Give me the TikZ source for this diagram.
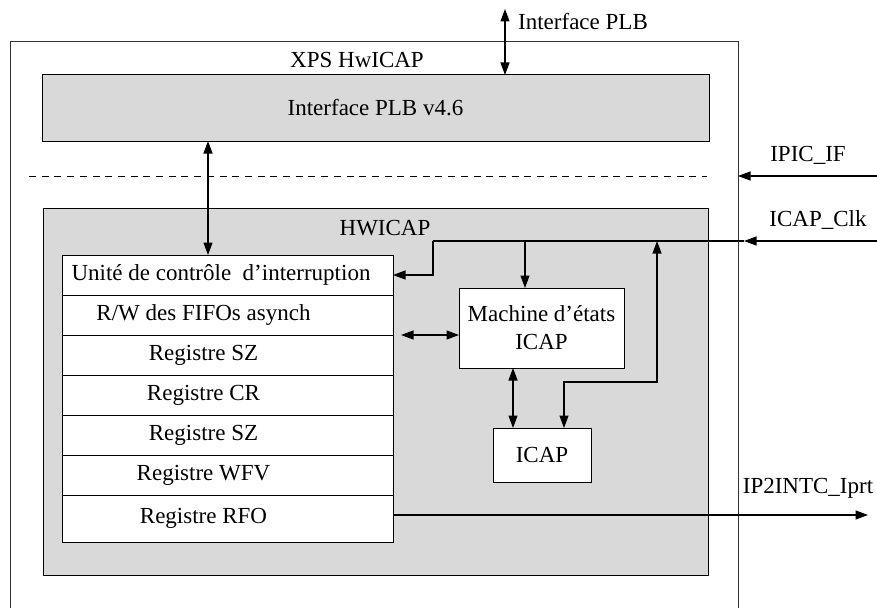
\documentclass[tikz,border=0pt]{standalone}
\usepackage{fontspec}
\setmainfont{Liberation Serif}
\usetikzlibrary{arrows.meta,positioning,calc}

\begin{document}
\begin{tikzpicture}[
    x=1pt, y=-1pt,
    font=\fontsize{23}{28}\selectfont,
    every node/.style={inner sep=0pt, outer sep=0pt},
    block/.style={rectangle, draw, line width=1pt, align=center},
    graybox/.style={block, fill=black!15},
    whitebox/.style={block, fill=white},
    row/.style={whitebox, minimum width=331pt, minimum height=40pt},
    rowtext/.style={label={[xshift=-24pt]center:#1}},
    arrow/.style={-{Triangle[length=12.5pt,width=9pt]}, line width=1.1pt},
    doublearrow/.style={{Triangle[length=12.5pt,width=9pt]}-{Triangle[length=12.5pt,width=9pt]}, line width=1.1pt}
  ]
    \useasboundingbox (0,0) rectangle (877,607);

    % outer block, open at the bottom of the page
    \node[rectangle, draw=black!80, line width=0.8pt, minimum width=728pt, minimum height=620pt, anchor=north west] (xps) at (10,41) {};
    \node (xpslabel) at (357,60) {XPS HwICAP};
    \node[graybox, minimum width=667pt, minimum height=66pt] (plb) at (375.5,108) {Interface PLB v4.6};

    \coordinate (plbext) at (505,9);
    \node (plblabel) at (583,22) {Interface PLB};
    \draw[doublearrow] (plbext) -- (plbext |- plb.north);

    % separation
    \coordinate (dashl) at (29,176);
    \coordinate (dashr) at (707,176);
    \draw[dash pattern=on 7pt off 5.7pt, line width=1pt] (dashl) -- (dashr);
    \coordinate (ipicin) at (877,176);
    \node (ipiclabel) at (808,155) {IPIC\_IF};
    \draw[arrow] (ipicin) -- (xps.east |- ipicin);

    % HWICAP core
    \node[graybox, minimum width=665pt, minimum height=367pt] (hw) at (375.5,391.5) {};
    \node (hwlabel) at (385,228) {HWICAP};

    \node[row, label={[xshift=-6.5pt]center:Unité de contrôle\ \ d’interruption}] (unite) at (227.5,275) {};
    \node[row, rowtext=R/W des FIFOs asynch, below=0pt of unite] (rw) {};
    \node[row, rowtext=Registre SZ, below=0pt of rw] (sz) {};
    \node[row, rowtext=Registre CR, below=0pt of sz] (cr) {};
    \node[row, rowtext=Registre SZ, below=0pt of cr] (sztwo) {};
    \node[row, rowtext=Registre WFV, below=0pt of sztwo] (wfv) {};
    \node[row, rowtext=Registre RFO, minimum height=47pt, below=0pt of wfv] (rfo) {};

    \node[whitebox, minimum width=165pt, minimum height=80pt] (fsm) at (541.5,328) {Machine d’états\\ICAP};
    \node[whitebox, minimum width=98pt, minimum height=54pt] (icap) at (542,455) {ICAP};

    \draw[doublearrow] (plb.south -| 208,0) -- (unite.north -| 208,0);

    % clock distribution
    \coordinate (clkin) at (877,241);
    \coordinate (clkturn) at (433,241);
    \node (clklabel) at (818,220) {ICAP\_Clk};
    \draw[arrow] (clkin) -- ([xshift=6pt]xps.east |- clkin);
    \draw[line width=1.1pt] ([xshift=6pt]xps.east |- clkin) -- (clkturn);
    \draw[arrow] (clkturn) |- (unite.east);
    \draw[arrow] (clkturn -| 525,0) -- (fsm.north -| 525,0);

    \draw[doublearrow] ([xshift=8pt]rw.south east) -- (fsm.west |- rw.south east);
    \draw[doublearrow] (fsm.south -| 513,0) -- (icap.north -| 513,0);
    \draw[doublearrow] (icap.north -| 564,0) |- (657,382) -- (clkturn -| 657,0);

    % interrupt output
    \coordinate (iprtout) at (868,515);
    \node (iprtlabel) at (808,488) {IP2INTC\_Iprt};
    \draw[arrow] (rfo.east |- iprtout) -- (iprtout);
  \end{tikzpicture}
\end{document}
